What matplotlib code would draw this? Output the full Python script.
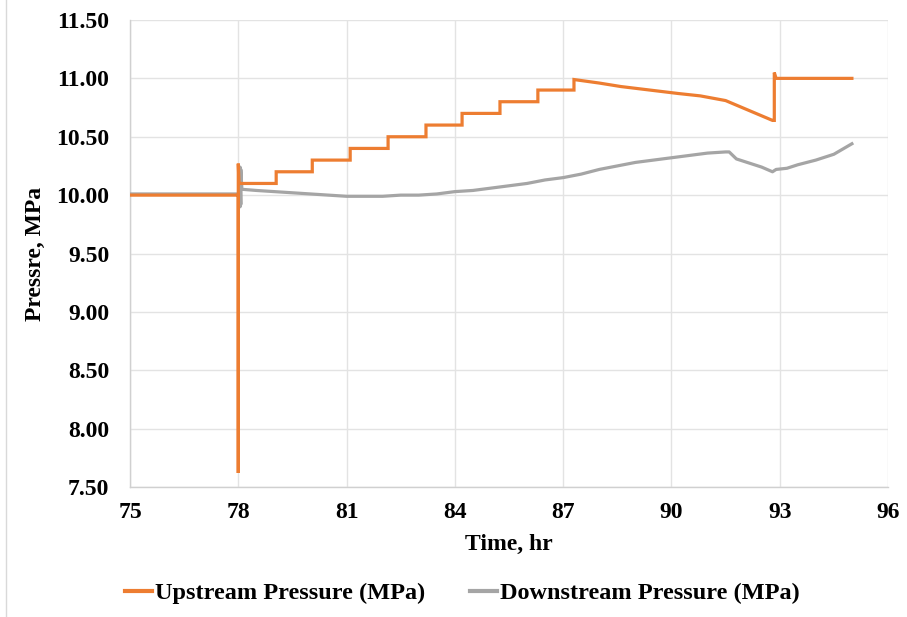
import matplotlib
matplotlib.use("Agg")
import matplotlib.pyplot as plt
from matplotlib.lines import Line2D

# ---- data ----
up_time = [75.0, 78.0, 78.0, 78.0, 78.02, 78.05, 79.05, 79.05, 80.05, 80.05, 81.1, 81.1,
           82.15, 82.15, 83.2, 83.2, 84.2, 84.2, 85.25, 85.25, 86.3, 86.3, 87.3, 87.3,
           88.0, 88.6, 89.4, 90.2, 90.8, 91.5, 92.8, 92.85, 92.85, 92.9, 95.0]
up_press = [10.00, 10.00, 7.62, 10.27, 10.10, 10.10, 10.10, 10.20, 10.20, 10.30, 10.30, 10.40,
            10.40, 10.50, 10.50, 10.60, 10.60, 10.70, 10.70, 10.80, 10.80, 10.90, 10.90, 10.99,
            10.96, 10.93, 10.90, 10.87, 10.85, 10.81, 10.64, 10.64, 11.05, 11.00, 11.00]

down_time = [75.0, 78.0, 78.05, 78.05, 78.07, 78.07, 78.1, 78.5, 79.0, 79.5, 80.0, 80.5,
             81.0, 81.5, 82.0, 82.5, 83.0, 83.5, 84.0, 84.5, 85.0, 85.5, 86.0, 86.5, 87.0,
             87.5, 88.0, 88.5, 89.0, 89.5, 90.0, 90.5, 91.0, 91.5, 91.6, 91.8, 92.2, 92.5,
             92.8, 92.9, 93.2, 93.5, 94.0, 94.5, 95.0]
down_press = [10.01, 10.01, 9.90, 10.24, 9.92, 10.22, 10.05, 10.04, 10.03, 10.02, 10.01, 10.00,
              9.99, 9.99, 9.99, 10.00, 10.00, 10.01, 10.03, 10.04, 10.06, 10.08, 10.10, 10.13,
              10.15, 10.18, 10.22, 10.25, 10.28, 10.30, 10.32, 10.34, 10.36, 10.37, 10.37,
              10.31, 10.27, 10.24, 10.20, 10.22, 10.23, 10.26, 10.30, 10.35, 10.44]

x_ticks = [75, 78, 81, 84, 87, 90, 93, 96]
y_ticks = [7.50, 8.00, 8.50, 9.00, 9.50, 10.00, 10.50, 11.00, 11.50]

series_names = ["Upstream Pressure (MPa)", "Downstream Pressure (MPa)"]
x_label = "Time, hr"
y_label = "Pressre, MPa"

# ---- style ----
ORANGE = "#ED7D31"
GRAY = "#A5A5A5"
GRID = "#E3E3E3"
FONT = "Liberation Serif"
FS = 17

plt.rcParams["font.family"] = [FONT, "DejaVu Serif"]
plt.rcParams["font.weight"] = "bold"

fig = plt.figure(figsize=(9.07, 6.17), dpi=100)
ax = fig.add_axes([130 / 907, 1 - 487 / 617, 758 / 907, 467 / 617])

ax.plot(down_time, down_press, color=GRAY, lw=2.3, solid_joinstyle="round", zorder=3)
ax.plot(up_time, up_press, color=ORANGE, lw=2.3, solid_joinstyle="miter", zorder=4)

ax.set_xlim(75, 96)
ax.set_ylim(7.5, 11.5)
ax.set_xticks(x_ticks)
ax.set_yticks(y_ticks)
ax.set_xticklabels([str(v) for v in x_ticks])
ax.set_yticklabels([f"{v:.2f}" for v in y_ticks])
ax.tick_params(axis="both", length=0, labelsize=FS)
ax.tick_params(axis="x", pad=11)
ax.tick_params(axis="y", pad=15)
for lbl in ax.get_xticklabels() + ax.get_yticklabels():
    lbl.set_fontweight("bold")

ax.grid(True, color=GRID, lw=1.0)
ax.set_axisbelow(True)
for s in ["top", "right"]:
    ax.spines[s].set_visible(False)
for s in ["left", "bottom"]:
    ax.spines[s].set_color("#D0D0D0")
    ax.spines[s].set_linewidth(1.0)

ax.set_xlabel(x_label, fontsize=FS, fontweight="bold", labelpad=8)
ax.set_ylabel(y_label, fontsize=FS, fontweight="bold", labelpad=7)

handles = [Line2D([], [], color=ORANGE, lw=3), Line2D([], [], color=GRAY, lw=3)]
fig.legend(handles, series_names, loc="center", bbox_to_anchor=(0.51, 1 - 593 / 617),
           ncol=2, frameon=False, handlelength=1.1, handletextpad=0.12,
           columnspacing=1.85, prop={"family": FONT, "weight": "bold", "size": 17.5})

# chart border line at left edge
fig.add_artist(Line2D([6 / 907, 6 / 907], [0, 1], transform=fig.transFigure,
                      color="#D9D9D9", lw=1.0))

fig.savefig("out.png", dpi=100)
